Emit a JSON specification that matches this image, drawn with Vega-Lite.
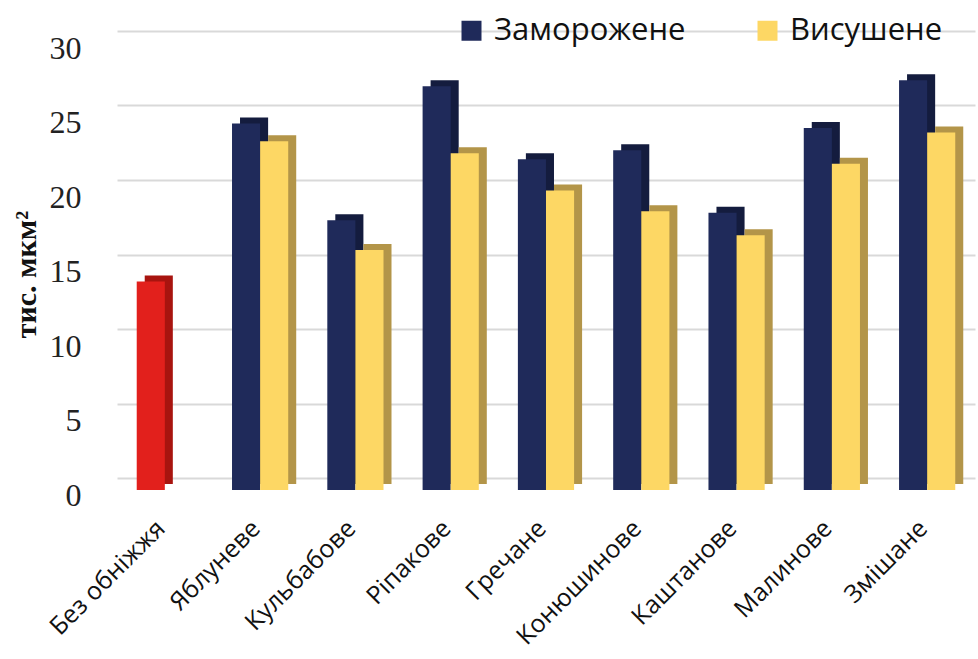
{
  "$schema": "https://vega.github.io/schema/vega-lite/v6.json",
  "width": 858,
  "height": 447,
  "autosize": {"type": "none"},
  "padding": {"left": 117, "top": 31, "right": 3, "bottom": 181},
  "background": "white",
  "config": {"view": {"stroke": null}},
  "data": {
    "values": [
      {"category": "Без обніжжя", "series": "Заморожене", "tone": "Без обніжжя", "value": 14.0},
      {"category": "Яблуневе", "series": "Заморожене", "tone": "Заморожене", "value": 24.6},
      {"category": "Яблуневе", "series": "Висушене", "tone": "Висушене", "value": 23.4},
      {"category": "Кульбабове", "series": "Заморожене", "tone": "Заморожене", "value": 18.1},
      {"category": "Кульбабове", "series": "Висушене", "tone": "Висушене", "value": 16.1},
      {"category": "Ріпакове", "series": "Заморожене", "tone": "Заморожене", "value": 27.1},
      {"category": "Ріпакове", "series": "Висушене", "tone": "Висушене", "value": 22.6},
      {"category": "Гречане", "series": "Заморожене", "tone": "Заморожене", "value": 22.2},
      {"category": "Гречане", "series": "Висушене", "tone": "Висушене", "value": 20.1},
      {"category": "Конюшинове", "series": "Заморожене", "tone": "Заморожене", "value": 22.8},
      {"category": "Конюшинове", "series": "Висушене", "tone": "Висушене", "value": 18.7},
      {"category": "Каштанове", "series": "Заморожене", "tone": "Заморожене", "value": 18.6},
      {"category": "Каштанове", "series": "Висушене", "tone": "Висушене", "value": 17.1},
      {"category": "Малинове", "series": "Заморожене", "tone": "Заморожене", "value": 24.3},
      {"category": "Малинове", "series": "Висушене", "tone": "Висушене", "value": 21.9},
      {"category": "Змішане", "series": "Заморожене", "tone": "Заморожене", "value": 27.5},
      {"category": "Змішане", "series": "Висушене", "tone": "Висушене", "value": 24.0}
    ]
  },
  "encoding": {
    "x": {
      "field": "category",
      "type": "nominal",
      "sort": null,
      "scale": {"paddingInner": 0.41, "paddingOuter": 0.207},
      "axis": {
        "title": null,
        "domain": false,
        "ticks": false,
        "grid": false,
        "labelAngle": -45,
        "labelAlign": "right",
        "labelBaseline": "middle",
        "labelFont": "Open Sans",
        "labelFontSize": 25,
        "labelColor": "#111111",
        "labelLimit": 0,
        "labelOffset": -4,
        "labelPadding": 46
      }
    },
    "y": {
      "field": "value",
      "type": "quantitative",
      "scale": {"domain": [0, 30], "nice": false},
      "axis": {
        "title": "тис. мкм²",
        "values": [0, 5, 10, 15, 20, 25, 30],
        "grid": true,
        "gridColor": "#d9d9d9",
        "gridWidth": 2,
        "domain": false,
        "ticks": false,
        "labelFont": "Liberation Serif",
        "labelFontSize": 32,
        "labelColor": "#222222",
        "labelPadding": 36,
        "labelOffset": 17,
        "titleFont": "Liberation Serif",
        "titleFontSize": 30,
        "titleFontWeight": "bold",
        "titleColor": "#111111",
        "titleX": -91,
        "titleY": 243,
        "titleAngle": -90,
        "titleAlign": "center",
        "titleBaseline": "middle"
      }
    }
  },
  "layer": [
    {
      "mark": {"type": "bar", "yOffset": 6},
      "encoding": {
        "xOffset": {
          "field": "series",
          "type": "nominal",
          "sort": ["Заморожене", "Висушене"],
          "scale": {"domain": ["Заморожене", "Висушене"], "range": [8, 64.2], "paddingInner": 0, "paddingOuter": 0}
        },
        "fill": {
          "field": "tone",
          "type": "nominal",
          "scale": {"domain": ["Заморожене", "Висушене", "Без обніжжя"], "range": ["#141c3e", "#b39549", "#a8140f"]},
          "legend": null
        }
      }
    },
    {
      "mark": {"type": "bar", "yOffset": 12},
      "encoding": {
        "xOffset": {
          "field": "series",
          "type": "nominal",
          "sort": ["Заморожене", "Висушене"],
          "scale": {"domain": ["Заморожене", "Висушене"], "range": [0, 56.2], "paddingInner": 0, "paddingOuter": 0}
        },
        "color": {
          "field": "tone",
          "type": "nominal",
          "scale": {"domain": ["Заморожене", "Висушене", "Без обніжжя"], "range": ["#1f2a5a", "#fdd764", "#e2201c"]},
          "legend": {
            "orient": "none",
            "legendX": 339,
            "legendY": -16,
            "direction": "horizontal",
            "title": null,
            "values": ["Заморожене", "Висушене"],
            "symbolType": "square",
            "symbolSize": 400,
            "symbolStrokeWidth": 0,
            "symbolOpacity": 1,
            "labelFont": "Open Sans",
            "labelFontSize": 31,
            "labelColor": "#111111",
            "labelLimit": 0,
            "labelOffset": 7,
            "columnPadding": 66,
            "padding": 0
          }
        }
      }
    }
  ],
  "resolve": {
    "scale": {"xOffset": "independent"},
    "legend": {"color": "independent", "fill": "independent"}
  }
}
